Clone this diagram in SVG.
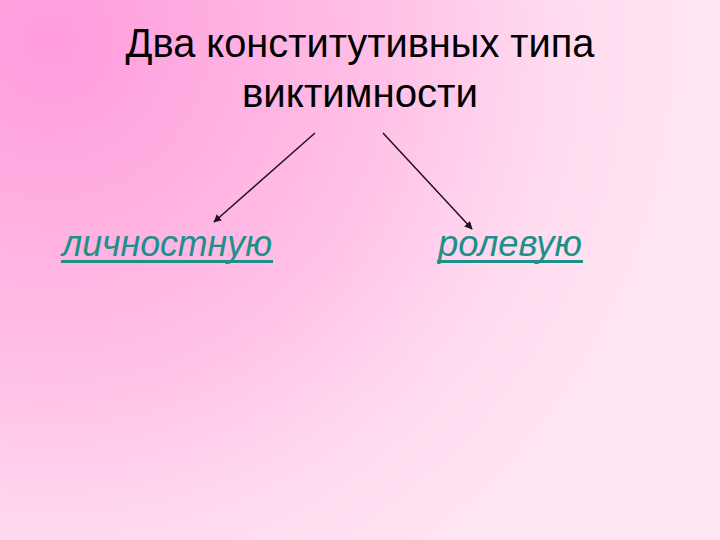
<svg xmlns="http://www.w3.org/2000/svg" width="720" height="540" viewBox="0 0 720 540">
<defs>
<radialGradient id="bg" gradientUnits="userSpaceOnUse" cx="50" cy="40" r="660">
<stop offset="0" stop-color="#FF9CDD"/>
<stop offset="0.5" stop-color="#FFC0E6"/>
<stop offset="0.78" stop-color="#FFDCF0"/>
<stop offset="1" stop-color="#FFE6F3"/>
</radialGradient>
<marker id="ah" viewBox="0 0 10 10" refX="9" refY="5" markerWidth="8" markerHeight="8" markerUnits="userSpaceOnUse" orient="auto">
<path d="M0,0 L10,5 L0,10 z" fill="#201020"/>
</marker>
<style>
.title{font-family:"Liberation Sans",Arial,sans-serif;font-size:40px;fill:#000;text-anchor:middle}
.lbl{font-family:"Liberation Sans",Arial,sans-serif;font-size:36px;font-style:italic;fill:#1E8F89}
.ul{stroke:#1E8F89;stroke-width:3}
.conn{stroke:#201020;stroke-width:1.5;fill:none;marker-end:url(#ah)}
</style>
</defs>
<rect width="720" height="540" fill="url(#bg)"/>
<g id="title">
<text class="title" x="360" y="57" textLength="469" lengthAdjust="spacingAndGlyphs">Два конститутивных типа</text>
<text class="title" x="360" y="107" textLength="236" lengthAdjust="spacingAndGlyphs">виктимности</text>
</g>
<g id="node-personal">
<text class="lbl" x="62" y="256" textLength="210" lengthAdjust="spacingAndGlyphs">личностную</text>
<line class="ul" x1="61" y1="261.5" x2="273" y2="261.5"/>
</g>
<g id="node-role">
<text class="lbl" x="438" y="256" textLength="144" lengthAdjust="spacingAndGlyphs">ролевую</text>
<line class="ul" x1="437" y1="261.5" x2="583" y2="261.5"/>
</g>
<g id="connectors">
<line class="conn" x1="315" y1="133" x2="214" y2="222"/>
<line class="conn" x1="383" y1="133" x2="472" y2="229"/>
</g>
</svg>
